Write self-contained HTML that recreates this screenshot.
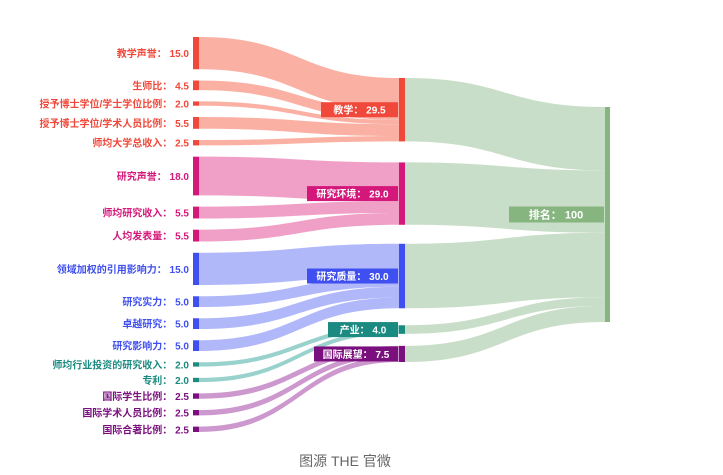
<!DOCTYPE html>
<html><head><meta charset="utf-8">
<style>
html,body{margin:0;padding:0;background:#fff;}
body{width:723px;height:470px;overflow:hidden;font-family:"Liberation Sans","Noto Sans CJK SC",sans-serif;}
svg text{font-family:"Liberation Sans","Noto Sans CJK SC",sans-serif;font-weight:bold;}
</style></head>
<body>
<svg id="chart" width="723" height="470" xmlns="http://www.w3.org/2000/svg">
<g id="links"></g>
<g id="nodes"></g>
<g id="labels"></g>
<text x="345" y="466" text-anchor="middle" font-size="14" fill="#666" style="font-weight:normal">图源 THE 官微</text>
</svg>
<script>
const leftNames = ["教学声誉","生师比","授予博士学位/学士学位比例","授予博士学位/学术人员比例","师均大学总收入","研究声誉","师均研究收入","人均发表量","领域加权的引用影响力","研究实力","卓越研究","研究影响力","师均行业投资的研究收入","专利","国际学生比例","国际学术人员比例","国际合著比例"];
const leftValues = [15.0,4.5,2.0,5.5,2.5,18.0,5.5,5.5,15.0,5.0,5.0,5.0,2.0,2.0,2.5,2.5,2.5];
const leftGroup = [0,0,0,0,0,1,1,1,2,2,2,2,3,3,4,4,4];
const midNames = ["教学","研究环境","研究质量","产业","国际展望"];
const midValues = [29.5,29.0,30.0,4.0,7.5];
const rootName = "排名";
const rootValue = 100;

const nodeColors = ["#f0483a","#d4177a","#3f4ff0","#1b8a80","#7a0f7e"];
const linkColors = ["#f9a99a","#ee95c0","#a8b0f8","#8ecdc6","#c78dc8"];
const rootColor = "#86b57f", rootLink = "#c6dcc5";

const K = 2.15;
const NS = "http://www.w3.org/2000/svg";
const gL = document.getElementById('links'), gN = document.getElementById('nodes'), gT = document.getElementById('labels');
function mk(tag, attrs, parent){const e=document.createElementNS(NS,tag);for(const k in attrs)e.setAttribute(k,attrs[k]);parent.appendChild(e);return e;}
function band(x0,y0,x1,y1,h){const xm=(x0+x1)/2;return `M${x0},${y0}C${xm},${y0} ${xm},${y1} ${x1},${y1}L${x1},${y1+h}C${xm},${y1+h} ${xm},${y0+h} ${x0},${y0+h}Z`;}

// left layout
const leftTop=37, leftGap=11.25;
const leftY=[]; let y=leftTop;
leftValues.forEach((v)=>{leftY.push(y); y+=v*K+leftGap;});
// mid layout
const midTop=78, midGaps=[21,19,17,12];
const midY=[]; y=midTop;
midValues.forEach((v,i)=>{midY.push(y); y+=v*K+(midGaps[i]||0);});
const rootY=107;

const LX=193, MX=399, RX=605;
// left->mid links
const midOff=midValues.map(()=>0);
leftValues.forEach((v,i)=>{
  const g=leftGroup[i], h=v*K;
  const p=mk('path',{d:band(LX+6,leftY[i],MX,midY[g]+midOff[g],h),fill:linkColors[g],'fill-opacity':0.9},gL);
  
  
  midOff[g]+=h;
});
// mid->root links
let rOff=0;
midValues.forEach((v,i)=>{
  const h=v*K;
  const p=mk('path',{d:band(MX+6,midY[i],RX,rootY+rOff,h),fill:rootLink,'fill-opacity':0.95},gL);
  
  
  rOff+=h;
});
// left nodes + labels
leftValues.forEach((v,i)=>{
  const g=leftGroup[i], h=Math.max(v*K,3);
  const r=mk('rect',{x:LX,y:leftY[i],width:6,height:h,fill:nodeColors[g]},gN);
  
  
  const t=mk('text',{x:189,y:leftY[i]+v*K/2+4,'text-anchor':'end','font-size':10,fill:nodeColors[g]},gT);
  t.textContent=leftNames[i]+"：  "+v.toFixed(1);
  
  
});
// mid nodes + labels
midValues.forEach((v,i)=>{
  const h=v*K;
  const r=mk('rect',{x:MX,y:midY[i],width:6,height:h,fill:nodeColors[i]},gN);
  
  
  const txt=midNames[i]+"：  "+v.toFixed(1);
  const w=txt.length*7+14;
  const cy=midY[i]+h/2;
  const b=mk('rect',{x:MX-1-w,y:cy-7.5,width:w,height:15,fill:nodeColors[i]},gT);
  
  
  const t=mk('text',{x:MX-1-w/2,y:cy+4,'text-anchor':'middle','font-size':10,fill:'#fff'},gT);
  t.textContent=txt;
  
  
});
// root
const rh=rootValue*K;
const rr=mk('rect',{x:RX,y:rootY,width:5,height:rh,fill:rootColor},gN);


const rb=mk('rect',{x:509,y:rootY+rh/2-8,width:95,height:16,fill:rootColor},gT);


const rt=mk('text',{x:556,y:rootY+rh/2+4,'text-anchor':'middle','font-size':11,fill:'#fff'},gT);
rt.textContent=rootName+"：  "+rootValue;


</script>
</body></html>
